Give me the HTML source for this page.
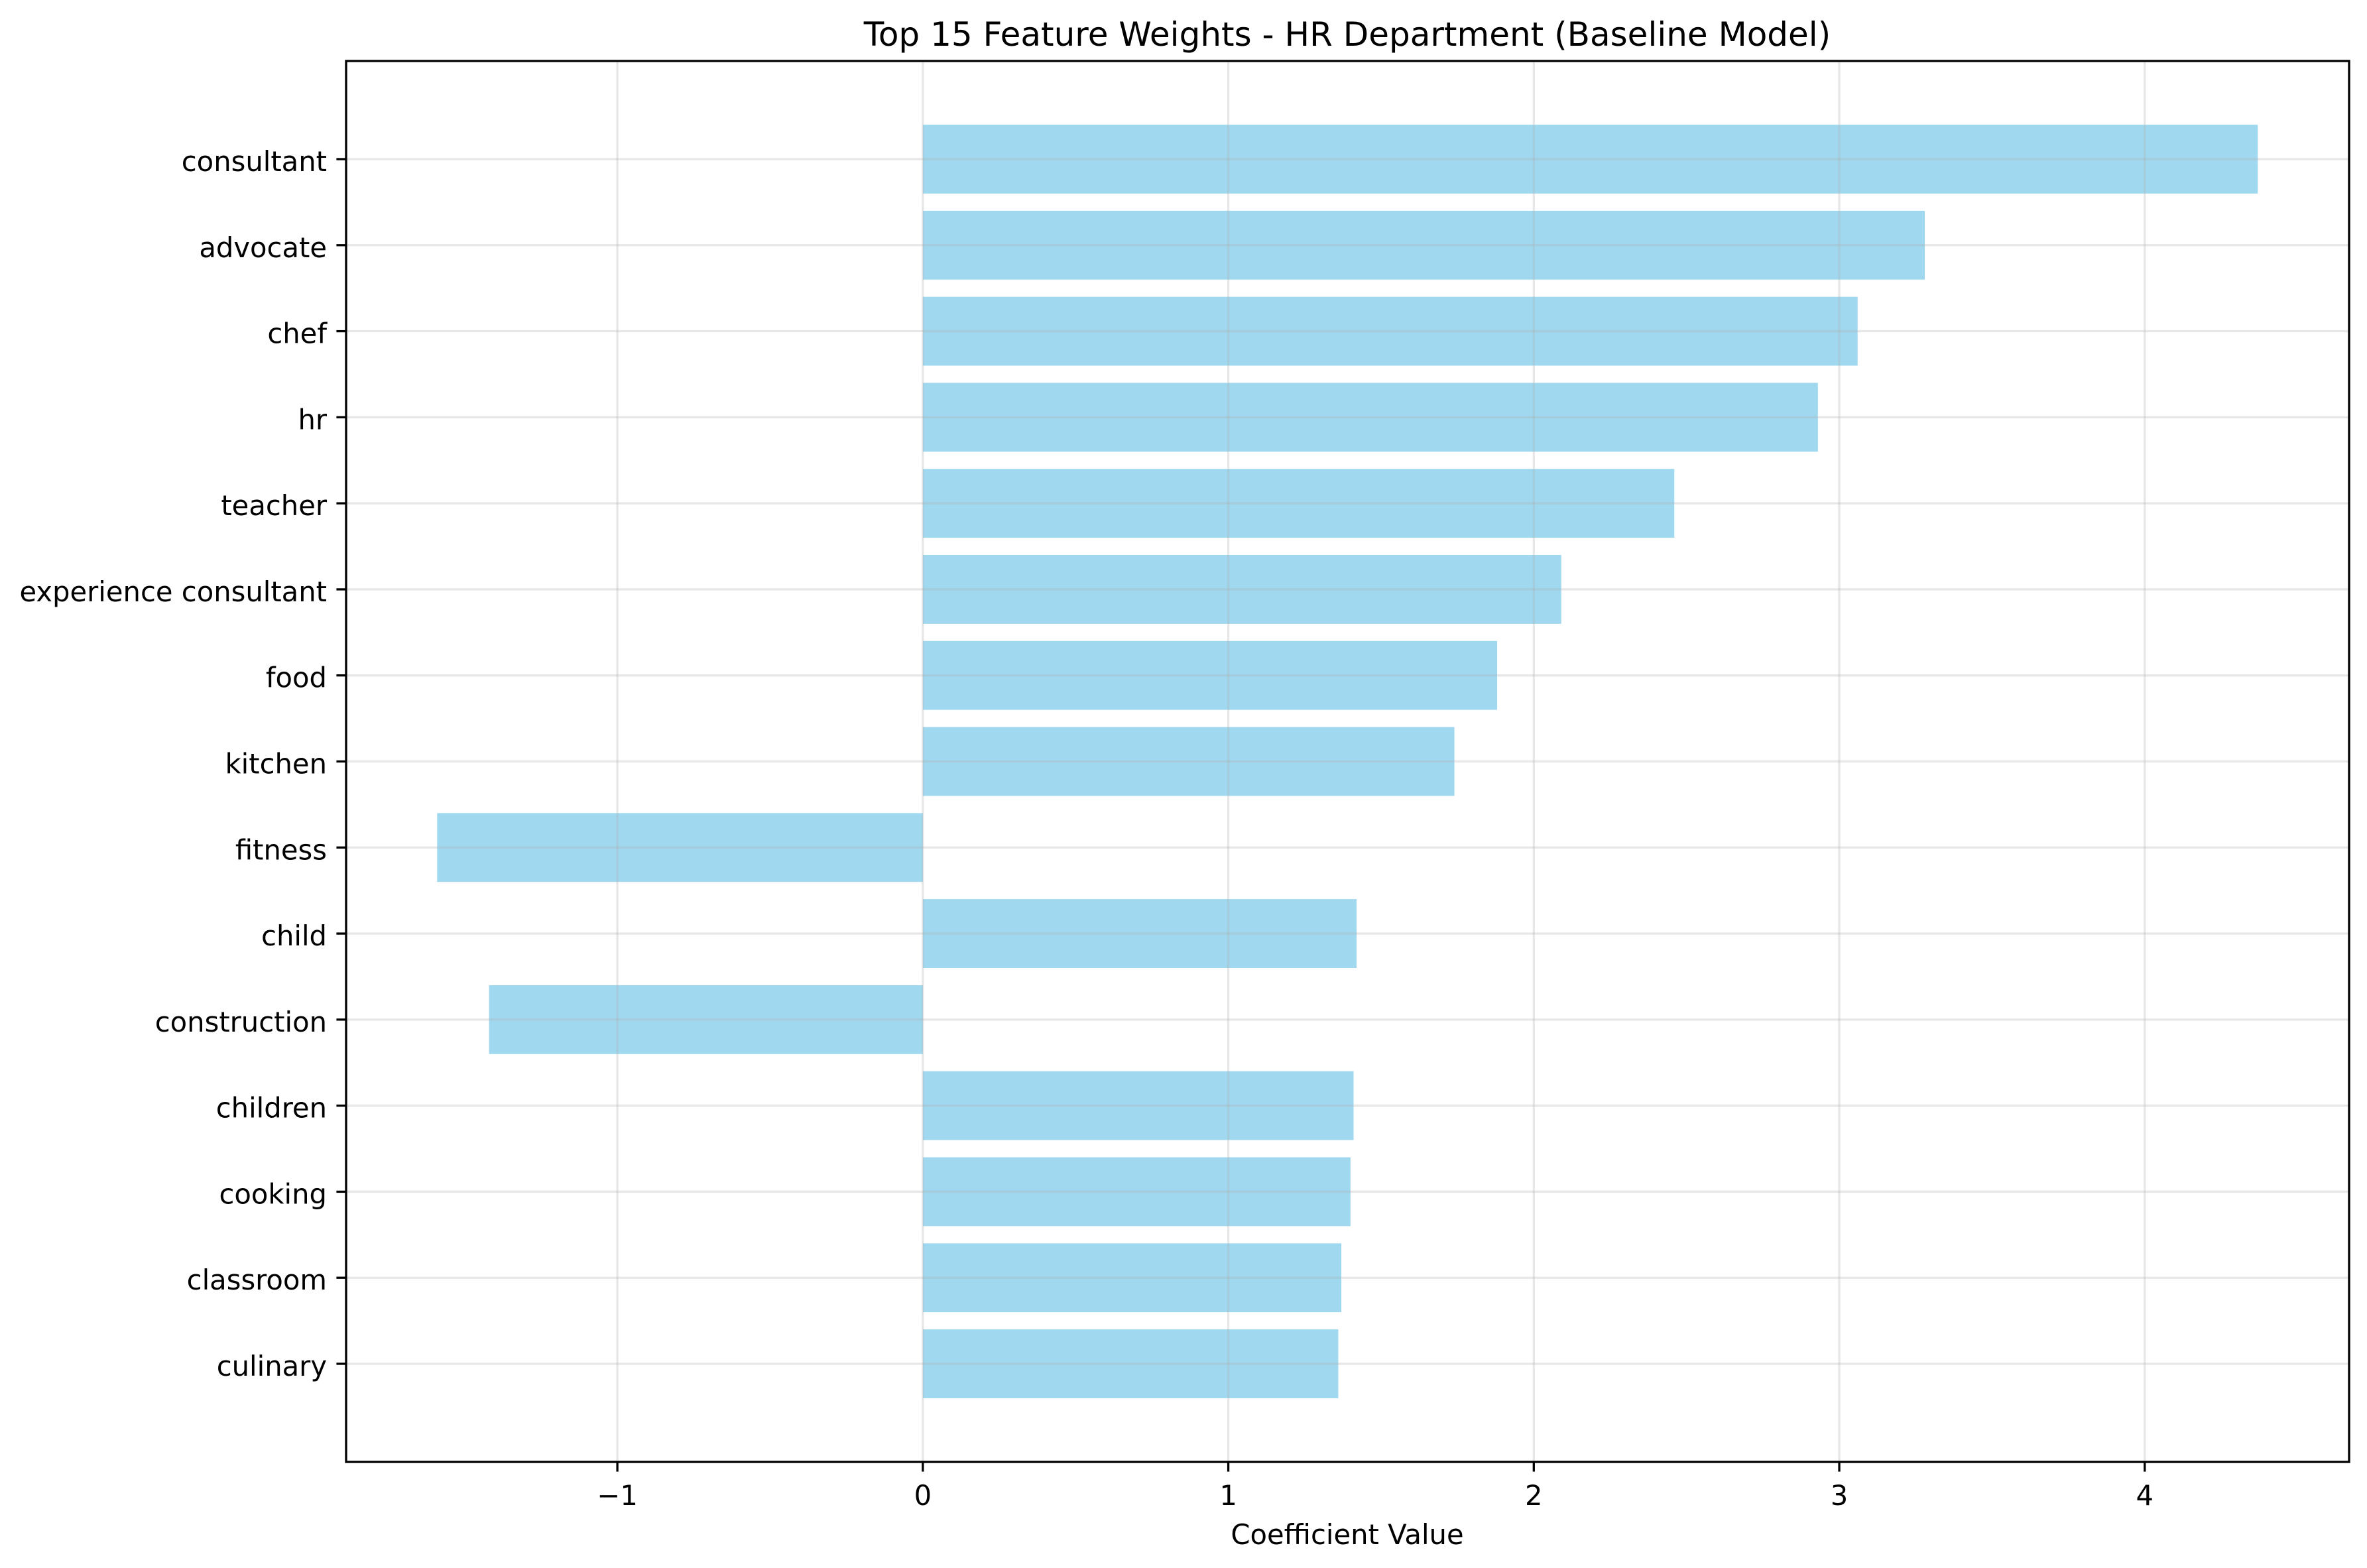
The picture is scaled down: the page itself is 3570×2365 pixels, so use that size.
<!DOCTYPE html>
<html><head><meta charset="utf-8"><style>
html,body{margin:0;padding:0;background:#fff;}
svg{display:block;font-family:"DejaVu Sans","Liberation Sans",sans-serif;}
</style></head><body>
<svg id="chart" width="3570" height="2365" viewBox="0 0 3570 2365" xmlns="http://www.w3.org/2000/svg">
<rect width="3570" height="2365" fill="#fff"/>
<text x="2032" y="69" font-size="50" text-anchor="middle">Top 15 Feature Weights - HR Department (Baseline Model)</text>
<g id="grid"></g>
<g id="bars"></g>
<g id="axes"></g>
<text x="2032" y="2329" font-size="41.7" text-anchor="middle">Coefficient Value</text>
</svg>
<script>
const categories = ["consultant","advocate","chef","hr","teacher","experience consultant","food","kitchen","fitness","child","construction","children","cooking","classroom","culinary"];
const values = [4.37,3.28,3.06,2.93,2.46,2.09,1.88,1.74,-1.59,1.42,-1.42,1.41,1.40,1.37,1.36];
const xTicks = [-1,0,1,2,3,4];
const xTickLabels = ["\u22121","0","1","2","3","4"];

const NS="http://www.w3.org/2000/svg";
const L=522,R=3543,T=92,B=2205;
const xmin=-1.888,xmax=4.669;
function xs(v){return L+(v-xmin)/(xmax-xmin)*(R-L);}
const step=(2057-240)/14;
function ys(i){return 240+i*step;}
function mk(tag,attrs,parent){const e=document.createElementNS(NS,tag);for(const k in attrs)e.setAttribute(k,attrs[k]);parent.appendChild(e);return e;}
const grid=document.getElementById('grid'),bars=document.getElementById('bars'),axes=document.getElementById('axes');

xTicks.forEach((t,i)=>{
  const x=xs(t);
  const g=mk('line',{x1:x,x2:x,y1:T,y2:B,stroke:'#b0b0b0','stroke-opacity':0.3,'stroke-width':3.3},grid);
  
  
  const tk=mk('line',{x1:x,x2:x,y1:B,y2:B+14.6,stroke:'#000','stroke-width':3.3},axes);
  
  
  const tx=mk('text',{x:x,y:2270,'font-size':41.7,'text-anchor':'middle'},axes);
  tx.textContent=xTickLabels[i];
  
  
});
categories.forEach((c,i)=>{
  const y=ys(i);
  const g=mk('line',{x1:L,x2:R,y1:y,y2:y,stroke:'#b0b0b0','stroke-opacity':0.3,'stroke-width':3.3},grid);
  
  
  const v=values[i];
  const x0=xs(Math.min(0,v)),x1=xs(Math.max(0,v));
  const h=step*0.8;
  const b=mk('rect',{x:x0,y:y-h/2,width:x1-x0,height:h,fill:'#87ceeb','fill-opacity':0.8},bars);
  
  
  const tk=mk('line',{x1:L-14.6,x2:L,y1:y,y2:y,stroke:'#000','stroke-width':3.3},axes);
  
  
  const tx=mk('text',{x:L-29,y:y+18,'font-size':41.7,'text-anchor':'end'},axes);
  tx.textContent=c;
  
  
});
document.getElementById('chart').insertBefore(bars,grid);
const fr=mk('rect',{x:L,y:T,width:R-L,height:B-T,fill:'none',stroke:'#000','stroke-width':3.3},axes);


</script>
</body></html>
